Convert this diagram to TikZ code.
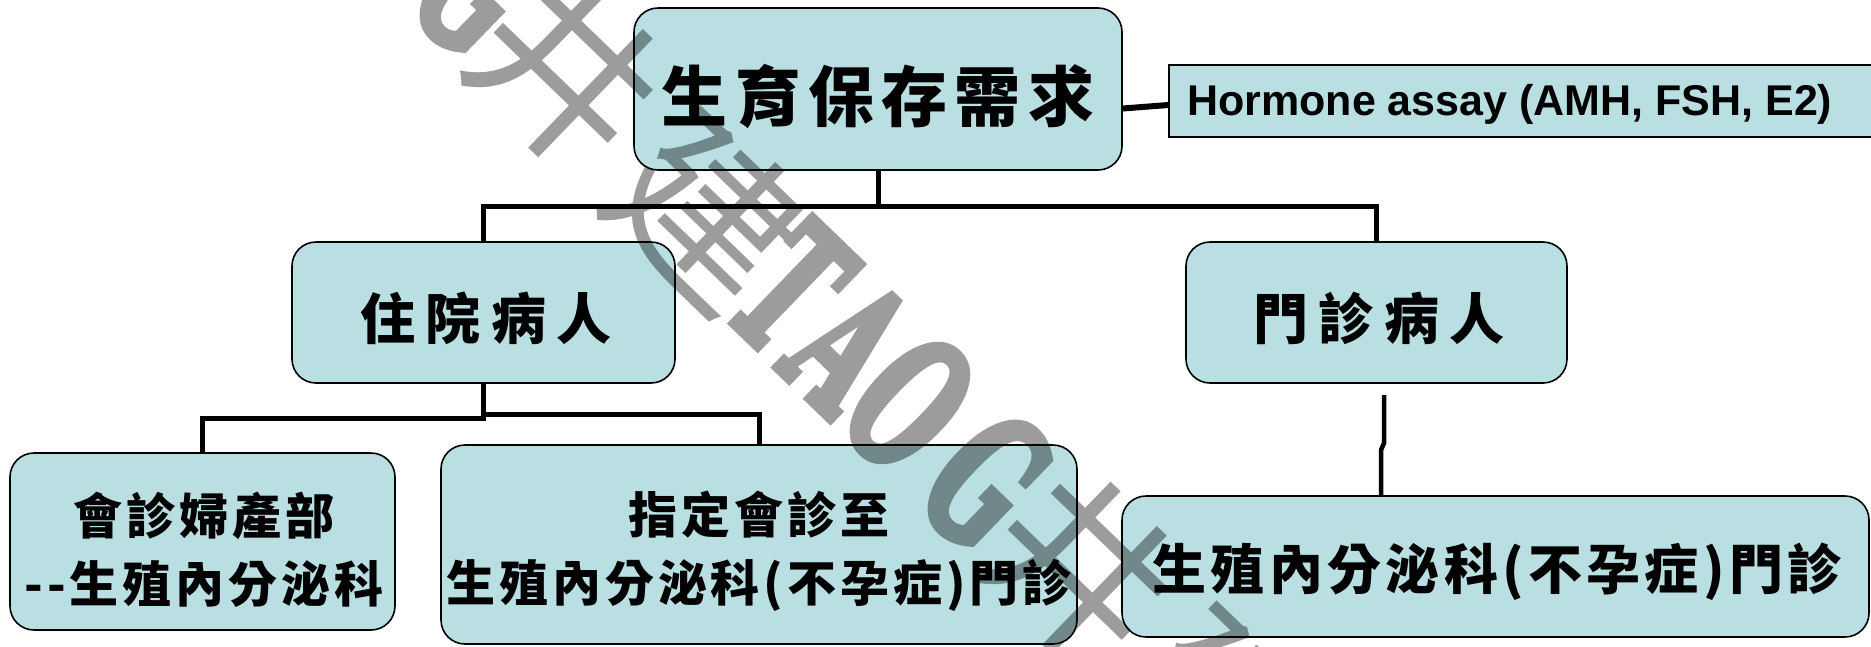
\documentclass[tikz,border=0pt]{standalone}
\usepackage{fontspec}
\usepackage{graphicx}
\newfontfamily\cjk{Noto Sans CJK TC}
\newfontfamily\hfont{Liberation Sans}
\newfontfamily\wmlat{DejaVu Serif}[FakeBold=5]
\definecolor{boxfill}{RGB}{186,223,227}
\begin{document}
\begin{tikzpicture}[x=1pt,y=-1pt,
  box/.style={draw=black, line width=1.6pt, fill=boxfill, rounded corners=24pt, inner sep=0pt},
  sqbox/.style={draw=black, line width=1.8pt, fill=boxfill, inner sep=0pt},
  conn/.style={draw=black, line width=5pt},
  lbl/.style={inner sep=0pt, align=center, text=black},
  wm/.style={text=black, inner sep=0pt, rotate=-44},
  wmL/.style={wm, font=\wmlat\bfseries\fontsize{180}{180}\selectfont},
  wmC/.style={wm, font=\cjk\fontsize{180}{180}\selectfont}]
\useasboundingbox (0,0) rectangle (1871,646);
% boxes
\node[box, minimum width=488pt, minimum height=162pt] (top) at (878,89) {};
\node[sqbox, minimum width=716pt, minimum height=72pt] (hor) at (1527,101) {};
\node[box, minimum width=383pt, minimum height=141pt] (zy) at (483.5,312.5) {};
\node[box, minimum width=381pt, minimum height=141pt] (mz) at (1376.5,312.5) {};
\node[box, minimum width=385pt, minimum height=177pt] (b1) at (202.5,541.5) {};
\node[box, minimum width=636pt, minimum height=199pt] (b2) at (759,544.5) {};
\node[box, minimum width=747pt, minimum height=141pt] (b3) at (1495.5,566.5) {};
% texts
\node[lbl, font=\cjk\bfseries\fontsize{66}{66}\selectfont\addfontfeature{LetterSpace=11}] (topT) at (878,96) {生育保存需求};
\node[lbl, font=\hfont\bfseries\fontsize{43}{43}\selectfont, anchor=west] (horT) at (1187,104) {Hormone assay (AMH, FSH, E2)};
\node[lbl, font=\cjk\bfseries\fontsize{55}{55}\selectfont\addfontfeature{LetterSpace=19}] (zyT) at (486,318) {住院病人};
\node[lbl, font=\cjk\bfseries\fontsize{55}{55}\selectfont\addfontfeature{LetterSpace=19}] (mzT) at (1379,318) {門診病人};
\node[lbl, font=\cjk\bfseries\fontsize{49}{68}\selectfont\addfontfeature{LetterSpace=8}] (b1T) at (204,550) {會診婦產部\\--生殖內分泌科};
\node[lbl, font=\cjk\bfseries\fontsize{49}{68}\selectfont\addfontfeature{LetterSpace=8}] (b2T) at (759,551.5) {指定會診至\\生殖內分泌科(不孕症)門診};
\node[lbl, font=\cjk\bfseries\fontsize{54}{54}\selectfont\addfontfeature{LetterSpace=8}] (b3T) at (1497,572) {生殖內分泌科(不孕症)門診};
% connectors
\coordinate (j0) at (878,206.5);
\draw[conn] (top.south) -- (j0);
\draw[conn] (zy.north) |- (j0) -| (mz.north);
\draw[line width=6pt] ([yshift=-19.5pt]top.east) -- ([yshift=-4pt]hor.west);
\coordinate (j1) at (483.5,418);
\coordinate (j2) at (483.5,414);
\draw[conn] (zy.south) -- (j1) -| (b1.north);
\draw[conn] (j2) -| (b2.north);
\coordinate (k1) at (1384,395);
\coordinate (k2) at (1384,443);
\coordinate (k3) at (1381,450);
\draw[conn, line width=4.5pt] (k1) -- (k2) -- (k3) -- (k3 |- b3.north);
% watermark
\begin{scope}[transparency group, opacity=0.39]
\node[wmL] (wG0) at (479,-14) {\scalebox{0.55}[1]{G}};
\node[wmC] (wN1) at (567,72) {井};
\node[wmC] (wH1) at (708,212) {建};
\node[wmL] (wT) at (791,288) {\scalebox{0.55}[1]{T}};
\node[wmL] (wA) at (849,346) {\scalebox{0.55}[1]{A}};
\node[wmL] (wO) at (910,403) {\scalebox{0.55}[1]{O}};
\node[wmL] (wG) at (987,480) {\scalebox{0.55}[1]{G}};
\node[wmC] (wN2) at (1081,569) {井};
\node[wmC] (wH2) at (1224,707) {建};
\end{scope}
\end{tikzpicture}
\end{document}
